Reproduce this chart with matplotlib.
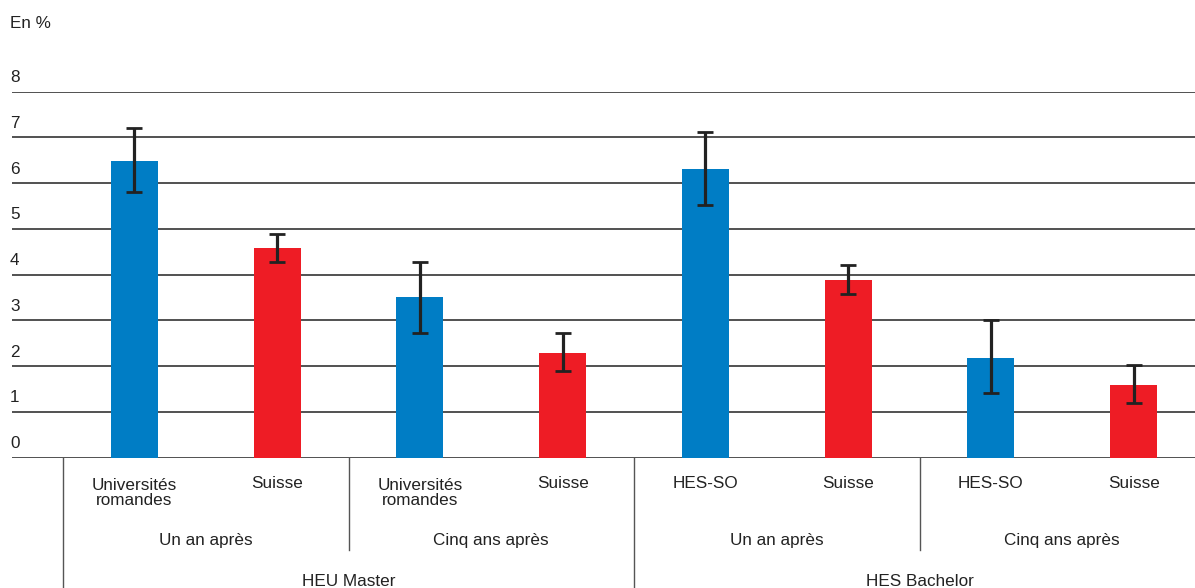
import matplotlib
matplotlib.use("Agg")
import matplotlib.pyplot as plt
import matplotlib.transforms as mtransforms
from matplotlib.lines import Line2D

# ---- data ----
categories = ["Universités\nromandes", "Suisse", "Universités\nromandes", "Suisse",
              "HES-SO", "Suisse", "HES-SO", "Suisse"]
periods = ["Un an après", "Cinq ans après", "Un an après", "Cinq ans après"]
groups = ["HEU Master", "HES Bachelor"]
values = [6.48, 4.58, 3.52, 2.28, 6.32, 3.88, 2.19, 1.58]
err_low = [5.81, 4.28, 2.72, 1.90, 5.52, 3.58, 1.41, 1.20]
err_high = [7.21, 4.90, 4.28, 2.73, 7.12, 4.21, 3.01, 2.03]
yticks = [0, 1, 2, 3, 4, 5, 6, 7, 8]
y_unit_label = "En %"

blue = "#007DC5"
red = "#EE1C25"
colors = [blue, red] * 4

plt.rcParams['font.family'] = ['Liberation Sans', 'DejaVu Sans']
fs = 12.3

W, H = 1195, 588
fig = plt.figure(figsize=(W / 100, H / 100), dpi=100)
ax_bottom_px = 457.7
ax_top_px = 91.7
ax = fig.add_axes([12 / W, 1 - ax_bottom_px / H, 1 - 12 / W, (ax_bottom_px - ax_top_px) / H])

x = list(range(len(values)))
slot_px = 142.75
ax.set_xlim(-0.5 - 51 / slot_px, -0.5 + (W - 63) / slot_px)
ax.set_ylim(0, 8)

for v in yticks:
    ax.axhline(v, color="#333333", lw=1.2, zorder=1)

ax.bar(x, values, width=0.33, color=colors, zorder=2)
yerr = [[v - lo for v, lo in zip(values, err_low)], [hi - v for v, hi in zip(values, err_high)]]
ax.errorbar(x, values, yerr=yerr, fmt="none", ecolor="#222222", elinewidth=2.3,
            capsize=5.8, capthick=2.0, zorder=3)

for s in ax.spines.values():
    s.set_visible(False)
ax.set_xticks([])
ax.set_yticks([])

# y tick labels above gridlines
tr_y = mtransforms.blended_transform_factory(fig.transFigure, ax.transData)
for v in yticks:
    ax.text(10 / W, v + 14 / 45.75, str(v), transform=tr_y, ha="left", va="center",
            fontsize=fs, color="#222222", clip_on=False)

fig.text(10 / W, 1 - 23 / H, y_unit_label, ha="left", va="center", fontsize=fs, color="#222222")

tr_x = mtransforms.blended_transform_factory(ax.transData, fig.transFigure)

def fy(px):
    return 1 - px / H

# row 1: categories
for i, c in enumerate(categories):
    yc = 493 if "\n" in c else 484
    ax.text(i, fy(yc), c, transform=tr_x, ha="center", va="center", fontsize=fs,
            color="#222222", linespacing=1.05, clip_on=False)

# row 2: periods
for j, p in enumerate(periods):
    ax.text(2 * j + 0.5, fy(540), p, transform=tr_x, ha="center", va="center",
            fontsize=fs, color="#222222", clip_on=False)

# row 3: groups
for k, g in enumerate(groups):
    ax.text(4 * k + 1.5, fy(581), g, transform=tr_x, ha="center", va="center",
            fontsize=fs, color="#222222", clip_on=False)

# separators
for xb, bottom in [(-0.5, 600), (1.5, 550), (3.5, 600), (5.5, 550)]:
    ln = Line2D([xb, xb], [fy(ax_bottom_px), fy(bottom)], transform=tr_x,
                color="#555555", lw=1.0, clip_on=False)
    ax.add_line(ln)

fig.savefig("out.png", dpi=100)
